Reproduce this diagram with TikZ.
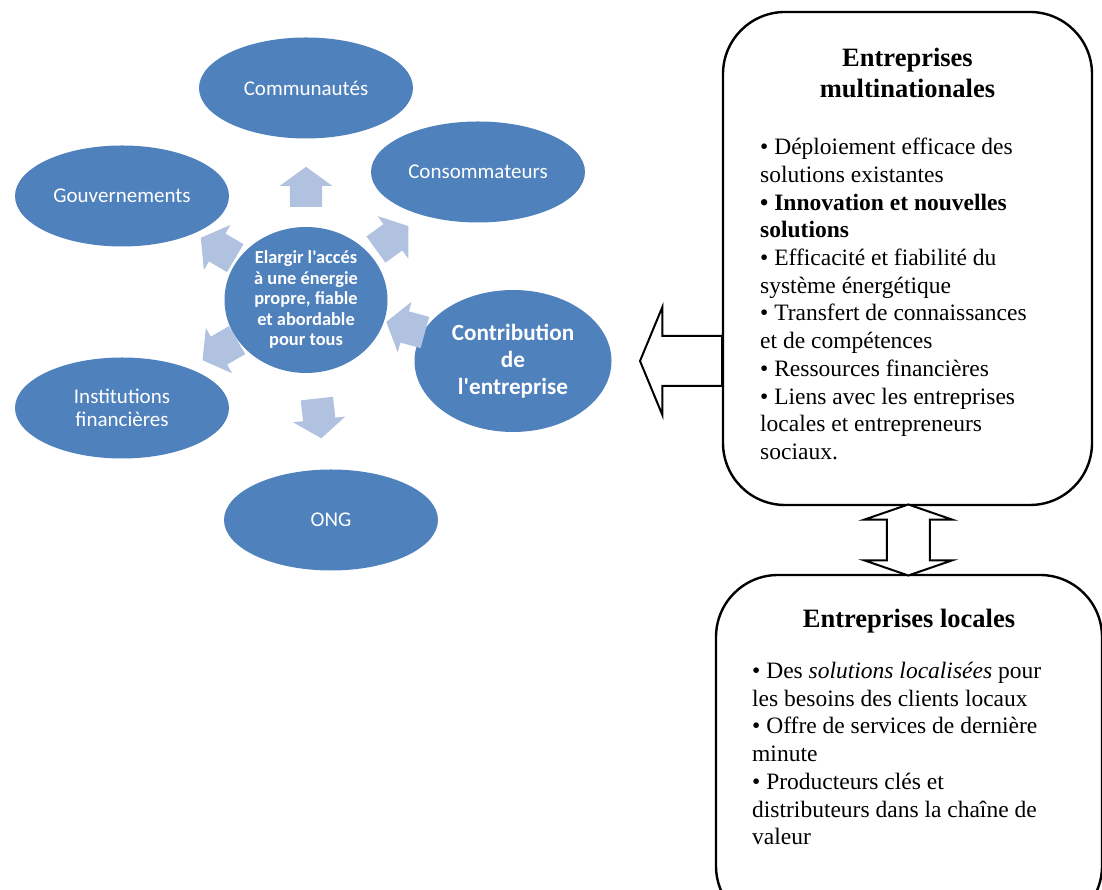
\documentclass[tikz,border=0pt]{standalone}
\usepackage{fontspec}
\setmainfont{Liberation Serif}
\newfontfamily\calibri{Carlito}
\usetikzlibrary{shapes.geometric, shapes.arrows, positioning, calc}
\definecolor{SmartBlue}{HTML}{4F81BD}
\definecolor{SmartLight}{HTML}{B0C2DF}
\tikzset{
    actor/.style={
        ellipse,
        fill=SmartBlue,
        minimum width=214pt,
        minimum height=101pt,
        inner sep=0pt,
        text=white,
        font=\calibri\fontsize{21}{22.5}\selectfont,
        align=center
    },
    spoke/.style={
        single arrow,
        fill=SmartLight,
        minimum height=40pt,
        inner xsep=0pt,
        inner ysep=16pt,
        single arrow head extend=10pt,
        single arrow tip angle=108
    },
    panel/.style={
        draw=black,
        line width=2.4pt,
        rounded corners=62pt,
        fill=white,
        outer sep=0pt
    },
    paneltitle/.style={
        font=\bfseries\fontsize{26.5}{31}\selectfont,
        align=center,
        inner sep=0pt
    },
    panelbody/.style={
        font=\fontsize{23.5}{27.7}\selectfont,
        align=left,
        inner sep=0pt
    },
    hollowarrow/.style={
        draw=black,
        fill=white,
        line width=2pt,
        inner xsep=0pt
    }
}

\begin{document}
\begin{tikzpicture}[x=1pt, y=1pt]
    \path[use as bounding box, clip] (0,0) rectangle (1102,890);

    % Central goal and the actors around it
    \node[actor, minimum width=163pt, minimum height=146pt,
          font=\calibri\bfseries\fontsize{18.4}{20.5}\selectfont] (hub) at (306,590)
        {Elargir l'accés\\à une énergie\\propre, fiable\\et abordable\\pour tous};
    \node[actor] (comm) at (306,802) {Communautés};
    \node[actor] (cons) at (478,718) {Consommateurs};
    \node[actor] (gouv) at (122,694) {Gouvernements};
    \node[actor] (inst) at (122,482) {Institutions\\financières};
    \node[actor] (ong) at (331,370) {ONG};
    \node[actor, minimum width=197pt, minimum height=142pt,
          font=\calibri\bfseries\fontsize{23.2}{27}\selectfont] (contrib) at (513,529)
        {Contribution\\de\\l'entreprise};

    % Small arrows round the hub
    \node[spoke, rotate=90, anchor=tail] (spokecomm) at ($(hub)+(90:93pt)$) {};
    \node[spoke, rotate=35.8, anchor=tail] (spokecons) at ($(hub)+(35.8:86pt)$) {};
    \node[spoke, rotate=149.4, anchor=tail] (spokegouv) at ($(hub)+(149.4:82pt)$) {};
    \node[spoke, rotate=210.2, anchor=tail] (spokeinst) at ($(hub)+(210.2:79.5pt)$) {};
    \node[spoke, rotate=-83.7, anchor=tail] (spokeong) at ($(hub)+(-83.7:99pt)$) {};
    \node[spoke, rotate=164.7, anchor=tip] (spokecontrib) at ($(hub)+(-15.3:83pt)$) {};

    % Multinational companies
    \node[panel, minimum width=369pt, minimum height=493pt] (multi) at (907.5,631.5) {};
    \node[paneltitle, anchor=north] (multititle) at ($(multi.north)+(0,-36)$)
        {Entreprises\\multinationales};
    \node[panelbody, anchor=north west] (multilist) at ($(multi.north west)+(37,-126)$) {
        • Déploiement efficace des\\
        solutions existantes\\
        \textbf{• Innovation et nouvelles}\\
        \textbf{solutions}\\
        • Efficacité et fiabilité du\\
        système énergétique\\
        • Transfert de connaissances\\
        et de compétences\\
        • Ressources financières\\
        • Liens avec les entreprises\\
        locales et entrepreneurs\\
        sociaux.
    };

    % Local companies
    \node[panel, minimum width=386pt, minimum height=353pt] (local) at (909,138.5) {};
    \node[paneltitle, anchor=north] (localtitle) at ($(local.north)+(0,-34)$)
        {Entreprises locales};
    \node[panelbody, anchor=north west] (locallist) at ($(local.north west)+(36,-87)$) {
        • Des \textit{solutions localisées} pour\\
        les besoins des clients locaux\\
        • Offre de services de dernière\\
        minute\\
        • Producteurs clés et\\
        distributeurs dans la chaîne de\\
        valeur
    };

    % Hollow arrows between the boxes
    \node[hollowarrow, single arrow, rotate=180, anchor=tail, minimum height=82pt,
          inner ysep=24pt, single arrow head extend=29pt, single arrow tip angle=135]
        (feed) at (multi.west |- contrib) {};
    \node[hollowarrow, double arrow, rotate=90, minimum height=71pt,
          inner ysep=20.5pt, double arrow head extend=22.5pt, double arrow tip angle=142]
        (link) at ($(multi.south)!0.5!(local.north)$) {};
\end{tikzpicture}
\end{document}
